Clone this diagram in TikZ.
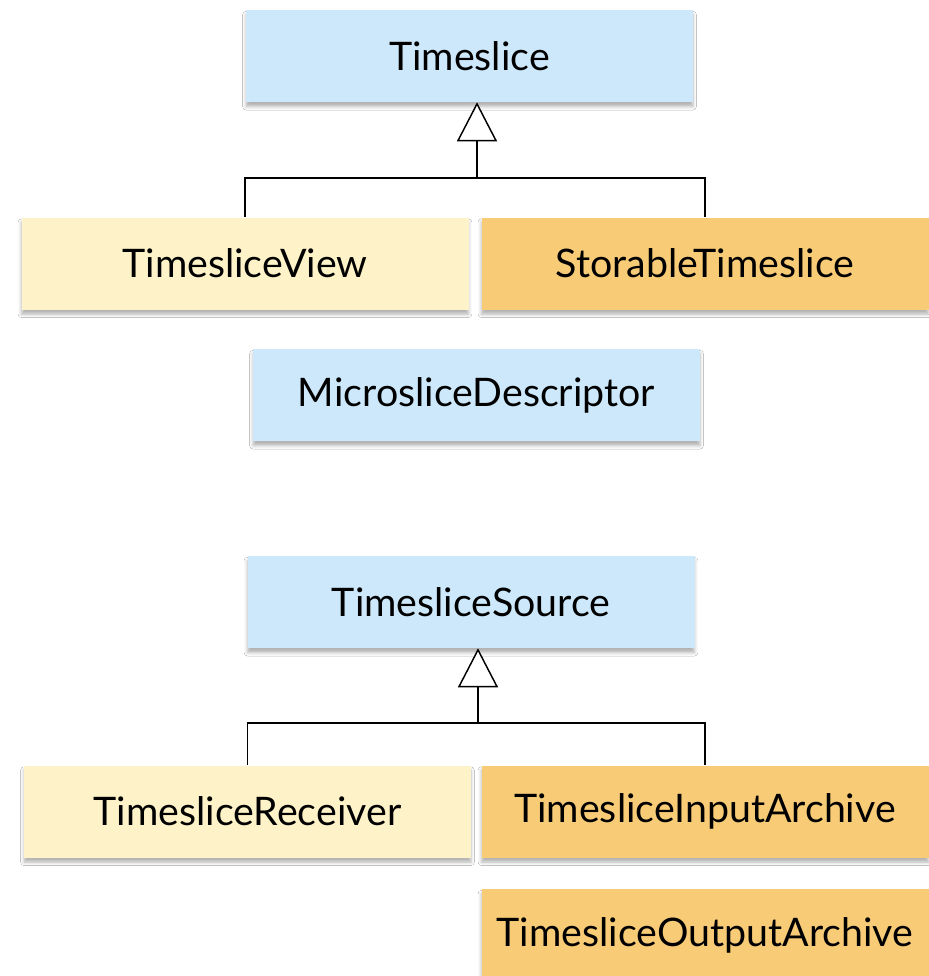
\documentclass[tikz,border=0pt]{standalone}
\usepackage{fontspec}
\setmainfont{Lato}
\usetikzlibrary{arrows.meta,shadows.blur}
\definecolor{clsblue}{RGB}{204,232,250}
\definecolor{clsyellow}{RGB}{254,243,200}
\definecolor{clsorange}{RGB}{248,203,118}
\tikzset{
  cls/.style={rectangle, inner sep=0pt, minimum width=447*0.75pt, minimum height=92*0.75pt,
    font=\fontsize{29.5}{34}\selectfont, text=black,
    blur shadow={shadow xshift=0pt, shadow yshift=-3.5pt, shadow blur radius=2.5pt,
      shadow opacity=30}},
  base/.style={cls, fill=clsblue},
  view/.style={cls, fill=clsyellow},
  store/.style={cls, fill=clsorange},
  link/.style={draw=black, line width=1.1pt},
  inherit/.style={link, -{Triangle[open, fill=white, length=39*0.75pt, width=40*0.75pt]}},
}
\begin{document}
\begin{tikzpicture}[x=0.75pt, y=-0.75pt]
  \useasboundingbox (0,0) rectangle (929,976);
  \fill[white] (0,0) rectangle (929,976);

  % timeslice hierarchy
  \node[base]  (ts)   at (469.5,56)  {Timeslice};
  \node[view]  (tsv)  at (245,263.5) {TimesliceView};
  \node[store] (sts)  at (705,263.5) {StorableTimeslice};
  \node[base]  (msd)  at (476.5,395) {MicrosliceDescriptor};

  \coordinate (hubA) at (477,178);
  \draw[link] (tsv.north) |- (hubA) -| (sts.north);
  \draw[inherit] (hubA) -- (hubA |- ts.south);

  % timeslice sources
  \node[base]  (src)  at (471,602)   {TimesliceSource};
  \node[view]  (rcv)  at (247.5,811.5) {TimesliceReceiver};
  \node[store] (tia)  at (705,811.5) {TimesliceInputArchive};
  \node[store] (toa)  at (705,935)   {TimesliceOutputArchive};

  \coordinate (hubB) at (478,723);
  \draw[link] (rcv.north) |- (hubB) -| (tia.north);
  \draw[inherit] (hubB) -- (hubB |- src.south);
\end{tikzpicture}
\end{document}
